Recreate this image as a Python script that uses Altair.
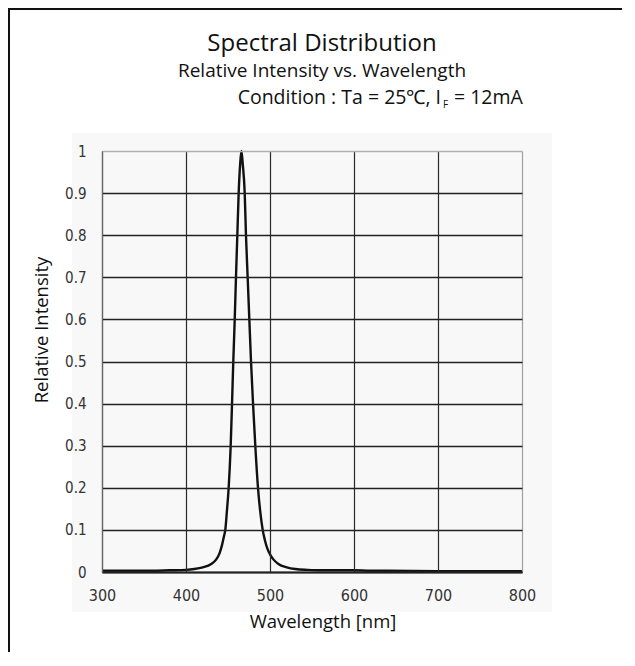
import altair as alt
import pandas as pd

# ---- data ----
wavelength = [300, 320, 340, 360, 380, 400, 410, 420, 430, 436, 440, 443, 445.2,
              446.8, 448.5, 450.8, 453.2, 454.8, 456.3, 458, 459.5, 461.1, 462.7, 464.5, 466,
              467.5, 469.9, 471.4, 473.4, 475.4, 477.4, 479.8, 482.5, 485.7, 488.3, 491.3,
              494, 497, 500, 504, 510, 520, 530, 545, 560, 580, 600, 620, 640, 700, 750, 800]
intensity = [0.003, 0.003, 0.003, 0.003, 0.004, 0.005, 0.007, 0.011, 0.019, 0.03, 0.045,
             0.065, 0.085, 0.1, 0.14, 0.2, 0.3, 0.4, 0.5, 0.6, 0.7, 0.8, 0.9, 0.97, 1.0,
             0.97, 0.9, 0.8, 0.7, 0.6, 0.5, 0.4, 0.3, 0.2, 0.145, 0.1, 0.075, 0.055, 0.042,
             0.03, 0.019, 0.011, 0.007, 0.005, 0.004, 0.004, 0.004, 0.003, 0.003, 0.002,
             0.002, 0.002]
x_ticks = [300, 400, 500, 600, 700, 800]
y_ticks = [0, 0.1, 0.2, 0.3, 0.4, 0.5, 0.6, 0.7, 0.8, 0.9, 1]

title_main = "Spectral Distribution"
title_sub = "Relative Intensity vs. Wavelength"
cond_a = "Condition : Ta = 25\u2103, I"
cond_sub = "F"
cond_b = "= 12mA"
x_title = "Wavelength [nm]"
y_title = "Relative Intensity"

df = pd.DataFrame({"wl": wavelength, "ri": intensity})
one = pd.DataFrame({"k": [0]})

TF = "Open Sans"
NARROW = "Liberation Sans Narrow, DejaVu Sans Condensed, Roboto Condensed, sans-serif"

W, H = 420, 421

xs = alt.X("wl:Q", scale=alt.Scale(domain=[300, 800], nice=False, zero=False),
           axis=alt.Axis(values=x_ticks, title=None, ticks=False, labelPadding=15,
                         labelFont=NARROW, labelFontSize=16, labelColor="#333",
                         labelFlush=False, labelOverlap=False,
                         domainColor="#222", domainWidth=2, zindex=1,
                         gridColor=alt.ExprRef("datum.value >= 800 ? '#a0a0a0' : '#2a2a2a'"),
                         gridWidth=1.2, gridOpacity=1))
ys = alt.Y("ri:Q", scale=alt.Scale(domain=[0, 1], nice=False),
           axis=alt.Axis(values=y_ticks, title=None, ticks=False, labelPadding=16,
                         labelFont=NARROW, labelFontSize=15, labelColor="#333",
                         labelFlush=False, labelOverlap=False,
                         labelExpr="datum.value == 0 ? '0' : datum.value == 1 ? '1' : format(datum.value, '.1f')",
                         domainColor="#666", domainWidth=1.2, zindex=1,
                         gridColor=alt.ExprRef("datum.value >= 1 ? '#b0b0b0' : '#222'"),
                         gridWidth=1.6, gridOpacity=1))

bg = alt.Chart(one).mark_rect(color="#f8f8f8").encode(
    x=alt.value(-30), x2=alt.value(450), y=alt.value(-18), y2=alt.value(461))

curve = alt.Chart(df).mark_line(color="#111", strokeWidth=2.4, interpolate="monotone").encode(
    x=xs, y=ys)

frame_left = alt.Chart(one).mark_rule(color="#111", strokeWidth=2).encode(
    x=alt.value(-93), y=alt.value(-143), y2=alt.value(520))
frame_top = alt.Chart(one).mark_rule(color="#111", strokeWidth=2).encode(
    x=alt.value(-94), x2=alt.value(540), y=alt.value(-142))

def txt(text, x, y, size, align="center", font=TF, angle=0, color="#111"):
    return alt.Chart(one).mark_text(text=text, font=font, fontSize=size, align=align,
                                    baseline="alphabetic", angle=angle, color=color).encode(
        x=alt.value(x), y=alt.value(y))

t1 = txt(title_main, 220, -100, 24)
t2 = txt(title_sub, 220, -74, 19)
t3 = txt(cond_a, 339, -47, 19.5, align="right")
t4 = txt(cond_sub, 341, -43, 10, align="left")
t5 = txt(cond_b, 352, -47, 19.5, align="left")
xt = txt(x_title, 221, 477, 18.5)
yt = txt(y_title, -54, 179, 18.5, angle=270)

chart = alt.layer(bg, curve, frame_left, frame_top, t1, t2, t3, t4, t5, xt, yt).properties(
    width=W, height=H,
    padding={"left": 94, "top": 143, "right": 100, "bottom": 80},
    autosize=alt.AutoSizeParams(type="none"),
).configure_view(stroke="#aaaaaa", strokeWidth=1).configure(background="white")

chart.save("out.html", embed_options={"renderer": "svg", "actions": False})
